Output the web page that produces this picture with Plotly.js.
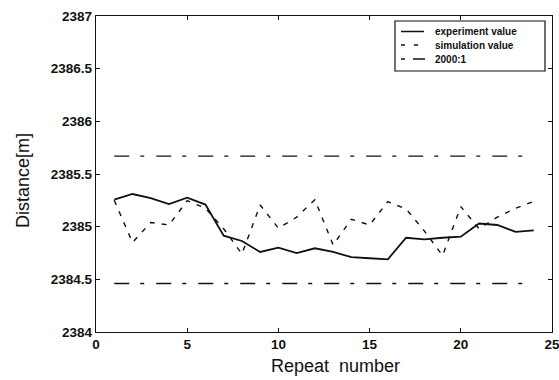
<!DOCTYPE html>
<html><head><meta charset="utf-8">
<script src="https://cdn.plot.ly/plotly-3.0.1.min.js"></script>
<style>html,body{margin:0;padding:0;background:#fff}</style>
</head><body>
<div id="chart" style="width:559px;height:380px"></div>
<script>
const repeatNumber = [1,2,3,4,5,6,7,8,9,10,11,12,13,14,15,16,17,18,19,20,21,22,23,24];
const experimentValue = [2385.256,2385.31,2385.27,2385.215,2385.275,2385.21,2384.915,2384.864,2384.76,2384.80,2384.75,2384.795,2384.76,2384.71,2384.70,2384.69,2384.895,2384.88,2384.895,2384.905,2385.03,2385.016,2384.95,2384.965];
const simulationValue = [2385.25,2384.85,2385.04,2385.016,2385.247,2385.175,2384.98,2384.74,2385.206,2384.985,2385.09,2385.256,2384.826,2385.07,2385.016,2385.237,2385.168,2384.96,2384.725,2385.19,2384.98,2385.09,2385.175,2385.24];
const boundX = [1, 24];
const upperBound = [2385.67, 2385.67];
const lowerBound = [2384.46, 2384.46];
const xTicks = [0,5,10,15,20,25];
const yTicks = [2384,2384.5,2385,2385.5,2386,2386.5,2387];
const legendNames = ['experiment value', 'simulation value', '2000:1'];

const FONT = 'Liberation Sans, Arial, sans-serif';
const INK = '#111';
const SIM_DASH = '5px,7px';
const BOUND_DASH = '15px,11px,4px,12px';

const traces = [
  {x: repeatNumber, y: experimentValue, name: legendNames[0], mode: 'lines',
   line: {color: INK, width: 1.8}},
  {x: repeatNumber, y: simulationValue, name: legendNames[1], mode: 'lines',
   line: {color: INK, width: 1.4, dash: SIM_DASH}},
  {x: boundX, y: upperBound, name: legendNames[2], mode: 'lines',
   line: {color: INK, width: 1.4, dash: BOUND_DASH}},
  {x: boundX, y: lowerBound, name: legendNames[2], mode: 'lines',
   line: {color: INK, width: 1.4, dash: BOUND_DASH}}
];

// plot area in pixels: left 96, right 552, top 16, bottom 332
const PL = 96, PW = 456, PT = 16, PH = 316;
const px = v => (v - PL) / PW;
const py = v => 1 - (v - PT) / PH;

const shapes = [
  {type: 'rect', xref: 'paper', yref: 'paper', x0: px(395), x1: px(545), y0: py(71), y1: py(21),
   line: {color: INK, width: 1.2}, fillcolor: '#fff', layer: 'above'},
  {type: 'line', xref: 'paper', yref: 'paper', x0: px(401), x1: px(424), y0: py(31.5), y1: py(31.5),
   line: {color: INK, width: 1.5}},
  {type: 'line', xref: 'paper', yref: 'paper', x0: px(401), x1: px(424), y0: py(45), y1: py(45),
   line: {color: INK, width: 1.4, dash: '4px,9px'}},
  {type: 'line', xref: 'paper', yref: 'paper', x0: px(401), x1: px(425), y0: py(59), y1: py(59),
   line: {color: INK, width: 1.4, dash: '4px,8px,12px'}}
];

const rowsY = [31.5, 45, 59];
const annotations = legendNames.map((t, i) => ({
  xref: 'paper', yref: 'paper', x: px(433), y: py(rowsY[i]), xanchor: 'left', yanchor: 'middle',
  text: t, showarrow: false, font: {family: FONT, size: 10, color: INK, weight: 'bold'}
}));
annotations.push({xref: 'paper', yref: 'paper', x: px(335), y: py(366), xanchor: 'center', yanchor: 'middle',
  text: 'Repeat\u00A0\u00A0number', showarrow: false, font: {family: FONT, size: 18, color: INK}});
annotations.push({xref: 'paper', yref: 'paper', x: px(23), y: py(181), xanchor: 'center', yanchor: 'middle',
  textangle: -90, text: 'Distance[m]', showarrow: false, font: {family: FONT, size: 18, color: INK}});

const axisCommon = {
  showgrid: false, zeroline: false, showline: true, linecolor: INK, linewidth: 1.2,
  mirror: 'ticks', ticks: 'inside', ticklen: 4, tickcolor: INK,
  ticklabeloverflow: 'allow',
  tickfont: {family: FONT, size: 13.5, color: INK, weight: 'bold'}
};

const layout = {
  width: 559, height: 380,
  margin: {l: 96, r: 7, t: 16, b: 48},
  paper_bgcolor: '#fff', plot_bgcolor: '#fff',
  showlegend: false,
  shapes: shapes,
  annotations: annotations,
  xaxis: Object.assign({}, axisCommon, {range: [0, 25], tickvals: xTicks}),
  yaxis: Object.assign({}, axisCommon, {range: [2384, 2387], tickvals: yTicks,
    ticktext: yTicks.map(String)})
};

Plotly.newPlot('chart', traces, layout, {displayModeBar: false, staticPlot: true});
</script>
</body></html>
